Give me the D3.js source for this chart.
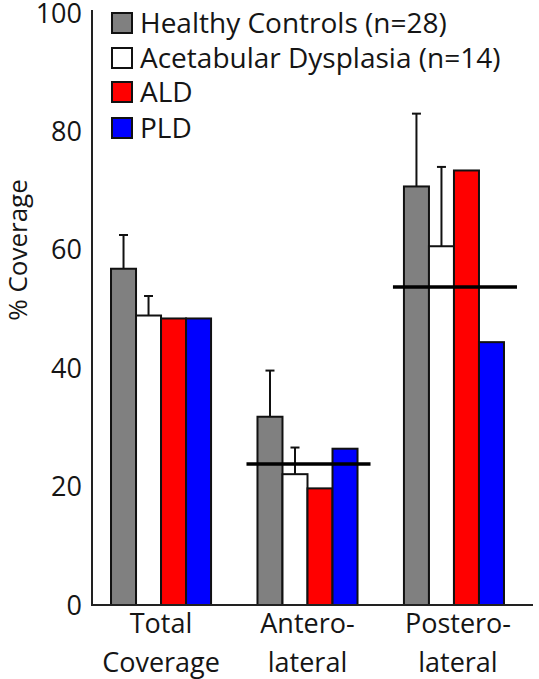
<!DOCTYPE html>
<html>
<head>
<meta charset="utf-8">
<script src="https://cdn.jsdelivr.net/npm/d3@7"></script>
<style>
  html, body { margin: 0; padding: 0; background: #ffffff; }
  svg { display: block; }
  text { font-family: "Open Sans", "Noto Sans", sans-serif; fill: #151515; }
</style>
</head>
<body>
<svg id="chart" width="539" height="679"></svg>
<script>
// ---- data ----
const categories = ["Total Coverage", "Antero-lateral", "Postero-lateral"];
const categoryLines = [["Total", "Coverage"], ["Antero-", "lateral"], ["Postero-", "lateral"]];
const seriesNames = ["Healthy Controls (n=28)", "Acetabular Dysplasia (n=14)", "ALD", "PLD"];
const seriesColors = ["#808080", "#ffffff", "#ff0000", "#0000ff"];
const healthy = [56.8, 31.8, 70.7];
const healthySD = [5.7, 7.8, 12.3];
const dysplasia = [48.9, 22.1, 60.6];
const dysplasiaSD = [3.3, 4.5, 13.4];
const ald = [48.4, 19.7, 73.4];
const pld = [48.4, 26.4, 44.4];
const referenceLine = [null, 23.8, 53.7];
const yTicks = [0, 20, 40, 60, 80, 100];

const seriesValues = [healthy, dysplasia, ald, pld];
const seriesErrors = [healthySD, dysplasiaSD, null, null];

// ---- layout ----
const svg = d3.select("#chart");
const axisX = 92, baseY = 605, topY = 13;

const y = d3.scaleLinear().domain([0, 100]).range([baseY, topY]);
const x0 = d3.scaleBand().domain(categories).range([93, 522])
  .paddingInner(0.317).paddingOuter(0.123);
const x1 = d3.scaleBand().domain(seriesNames).range([0, x0.bandwidth()]).padding(0);

// bars
const bars = [];
seriesValues.forEach((vals, si) => {
  vals.forEach((v, ci) => {
    bars.push({ s: seriesNames[si], c: categories[ci], v, color: seriesColors[si],
                err: seriesErrors[si] ? seriesErrors[si][ci] : null });
  });
});

const g = svg.append("g");

// error bars (upper whisker only)
const eb = g.selectAll(".err").data(bars.filter(d => d.err != null)).enter().append("g");
eb.append("line")
  .attr("x1", d => x0(d.c) + x1(d.s) + x1.bandwidth() / 2)
  .attr("x2", d => x0(d.c) + x1(d.s) + x1.bandwidth() / 2)
  .attr("y1", d => y(d.v)).attr("y2", d => y(d.v + d.err))
  .attr("stroke", "#111").attr("stroke-width", 2);
eb.append("line")
  .attr("x1", d => x0(d.c) + x1(d.s) + x1.bandwidth() / 2 - 4.5)
  .attr("x2", d => x0(d.c) + x1(d.s) + x1.bandwidth() / 2 + 4.5)
  .attr("y1", d => y(d.v + d.err)).attr("y2", d => y(d.v + d.err))
  .attr("stroke", "#111").attr("stroke-width", 2);

g.selectAll(".bar").data(bars).enter().append("rect")
  .attr("x", d => x0(d.c) + x1(d.s))
  .attr("y", d => y(d.v))
  .attr("width", x1.bandwidth())
  .attr("height", d => y(0) - y(d.v))
  .attr("fill", d => d.color)
  .attr("stroke", "#111")
  .attr("stroke-width", 2);

// reference lines
g.selectAll(".ref").data(categories.map((c, i) => ({ c, v: referenceLine[i] })).filter(d => d.v != null))
  .enter().append("line")
  .attr("x1", d => x0(d.c) - 11)
  .attr("x2", d => x0(d.c) + x0.bandwidth() + 13)
  .attr("y1", d => y(d.v)).attr("y2", d => y(d.v))
  .attr("stroke", "#000").attr("stroke-width", 3.5);

// axes lines
svg.append("line").attr("x1", axisX).attr("x2", axisX).attr("y1", 10).attr("y2", baseY + 1)
  .attr("stroke", "#222").attr("stroke-width", 2);
svg.append("line").attr("x1", axisX).attr("x2", 533).attr("y1", baseY).attr("y2", baseY)
  .attr("stroke", "#222").attr("stroke-width", 2);

// y tick labels
svg.selectAll(".ytick").data(yTicks).enter().append("text")
  .attr("x", 82).attr("y", d => y(d) + 9.5)
  .attr("text-anchor", "end")
  .style("font-size", "27px")
  .text(d => d);

// y axis title
svg.append("text")
  .attr("transform", "translate(27,250) rotate(-90)")
  .attr("text-anchor", "middle")
  .style("font-size", "26px")
  .text("% Coverage");

// x labels
categories.forEach((c, i) => {
  const t = svg.append("text").attr("text-anchor", "middle").style("font-size", "27px");
  categoryLines[i].forEach((ln, j) => {
    t.append("tspan").attr("x", x0(c) + x0.bandwidth() / 2 + (i === 2 ? 4 : 0)).attr("y", 633 + j * 39).text(ln);
  });
});

// legend
const legY = [13, 48, 82, 118];
const leg = svg.selectAll(".leg").data(seriesNames).enter().append("g")
  .attr("transform", (d, i) => `translate(112,${legY[i]})`);
leg.append("rect").attr("width", 20).attr("height", 20)
  .attr("fill", (d, i) => seriesColors[i]).attr("stroke", "#111").attr("stroke-width", 2);
leg.append("text").attr("x", 28).attr("y", 20)
  .style("font-size", "28px")
  .text(d => d);
</script>
</body>
</html>
